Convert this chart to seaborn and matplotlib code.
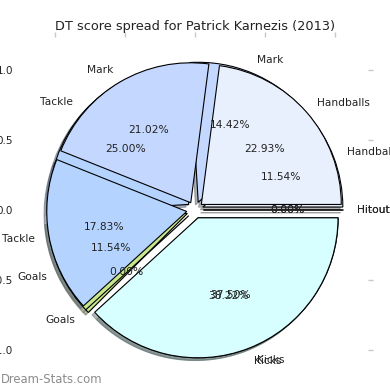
"""
DT score spread pie for one player, two pies drawn over each other
"""

import matplotlib
matplotlib.use("Agg")
import matplotlib.pyplot as plt
import seaborn as sns

# Slice order runs counter-clockwise from 3 o'clock
labels = ['Hitout', 'Handballs', 'Mark', 'Tackle', 'Goals', 'Kicks']
front_values = [0, 36, 33, 28, 0, 60]    # 22.93 / 21.02 / 17.83 / 38.22 %
back_values = [0, 12, 15, 26, 12, 39]    # 11.54 / 14.42 / 25.00 / 11.54 / 37.50 %
slice_colors = ['#f2f2f2', '#e8f0fe', '#c4d8ff', '#b4d4ff', '#c8e68c', '#d8ffff']
title = 'DT score spread for Patrick Karnezis (2013)'
ticks = [-1.0, -0.5, 0.0, 0.5, 1.0]

sns.set_style('white')
plt.rcParams['font.family'] = ['DejaVu Sans']

fig = plt.figure(figsize=(3.9, 3.9), dpi=100)
ax = fig.add_axes([22 / 390, 7 / 390, 346 / 390, 346 / 390])

text_style = {'fontsize': 7.7, 'color': '#222222'}
wedge_style = {'edgecolor': 'black', 'linewidth': 0.8}
shadow_style = {'ox': -0.014, 'oy': -0.014, 'shade': 0.55}
explode = [0.06] * len(labels)

# back pie first, front pie on top of it
for values in (back_values, front_values):
    ax.pie(values, labels=labels, colors=slice_colors, explode=explode,
           autopct='%.2f%%', shadow=shadow_style, startangle=0, frame=True,
           textprops=text_style, wedgeprops=wedge_style)

lim = 1.236
ax.set_xlim(-lim, lim)
ax.set_ylim(-lim, lim)
ax.set_aspect('equal')
ax.set_xticks(ticks)
ax.set_yticks(ticks)
ax.set_xticklabels([f'{t:.1f}' for t in ticks])
ax.set_yticklabels([f'{t:.1f}' for t in ticks])
ax.tick_params(which='both', top=True, right=True, direction='out',
               length=3.5, width=1, color='#c8c8c8', labelsize=7.5,
               labelcolor='#222222', pad=3)
for spine in ax.spines.values():
    spine.set_visible(False)

ax.set_title(title, fontsize=9.3, color='#222222', pad=5)

fig.text(0.002, 0.026, 'Dream-Stats.com', fontsize=8.4, color='#8c8c8c',
         va='center', ha='left')

fig.savefig('out.png', dpi=100)
